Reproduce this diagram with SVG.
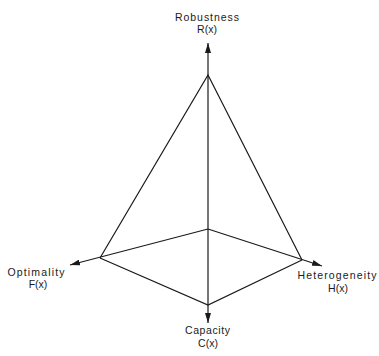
<svg xmlns="http://www.w3.org/2000/svg" width="379" height="356" viewBox="0 0 379 356">
<style>
.lbl{font-family:"Liberation Sans",Arial,sans-serif;font-size:10.5px;fill:#1a1a1a;text-anchor:middle}
.edge{stroke:#1a1a1a;stroke-width:1.2;fill:none}
</style>
<defs>
<marker id="ah" viewBox="0 0 10 6" refX="10" refY="3" markerWidth="10" markerHeight="6" markerUnits="userSpaceOnUse" orient="auto">
<path d="M0,0 L10,3 L0,6 Z" fill="#1a1a1a"/>
</marker>
</defs>
<rect width="379" height="356" fill="#ffffff"/>
<g id="connectors">
<line class="edge" x1="208" y1="229" x2="208" y2="43" marker-end="url(#ah)"/>
<line class="edge" x1="208" y1="229" x2="208" y2="323" marker-end="url(#ah)"/>
<line class="edge" x1="208" y1="229" x2="70" y2="265" marker-end="url(#ah)"/>
<line class="edge" x1="208" y1="229" x2="322" y2="266" marker-end="url(#ah)"/>
<polyline class="edge" points="100,258 208,75 302,260"/>
<polyline class="edge" points="100,258 208,305 302,260"/>
</g>
<g id="robustness">
<text class="lbl" x="207" y="21" textLength="64" lengthAdjust="spacing">Robustness</text>
<text class="lbl" x="207" y="33">R(x)</text>
</g>
<g id="optimality">
<text class="lbl" x="36" y="276" textLength="57" lengthAdjust="spacing">Optimality</text>
<text class="lbl" x="38" y="288">F(x)</text>
</g>
<g id="heterogeneity">
<text class="lbl" x="337" y="279" textLength="79" lengthAdjust="spacing">Heterogeneity</text>
<text class="lbl" x="338" y="292">H(x)</text>
</g>
<g id="capacity">
<text class="lbl" x="207.5" y="334" textLength="45" lengthAdjust="spacing">Capacity</text>
<text class="lbl" x="208" y="347">C(x)</text>
</g>
</svg>
